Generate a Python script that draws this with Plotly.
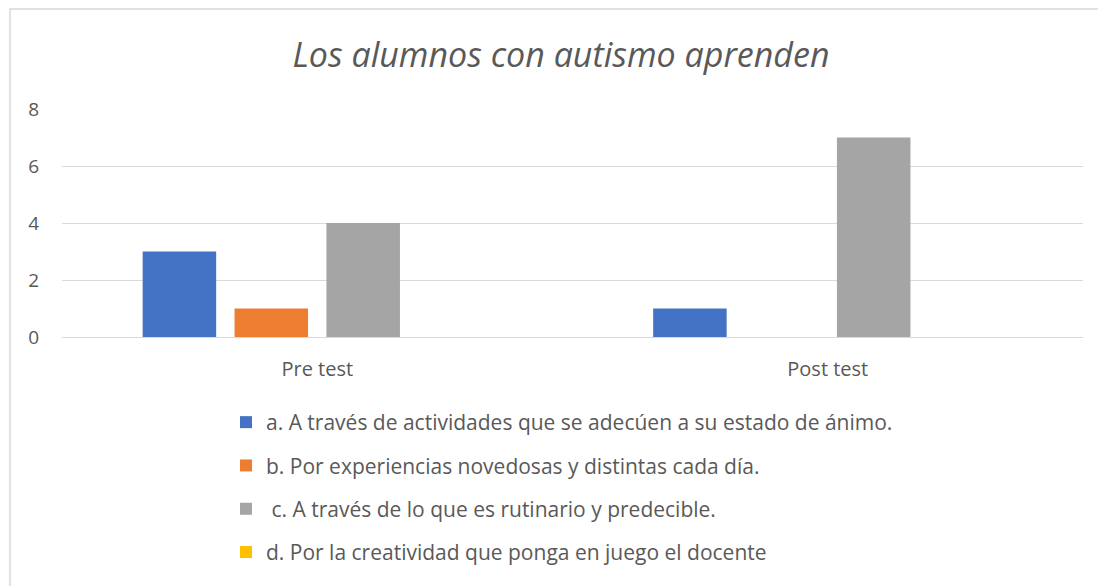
import plotly.graph_objects as go

categories = ["Pre test", "Post test"]
series_names = [
    "a. A través de actividades que se adecúen a su estado de ánimo.",
    "b. Por experiencias novedosas y distintas cada día.",
    " c. A través de lo que es rutinario y predecible.",
    "d. Por la creatividad que ponga en juego el docente",
]
series_values = [
    [3, 1],
    [1, 0],
    [4, 7],
    [0, 0],
]
colors = ["#4472C4", "#ED7D31", "#A5A5A5", "#FFC000"]

# the page body adds an 8px offset, so the figure is laid out in page coords - 8
OFF = 8
W, H = 1106 - OFF, 586 - OFF
L, R, T, B = 62 - OFF, 23, 109 - OFF, 249
pw, ph = W - L - R, H - T - B


def px_x(v):
    return (v - OFF - L) / pw


def px_y(v):
    return (H - B - (v - OFF)) / ph


fig = go.Figure()
for i, (name, vals) in enumerate(zip(series_names, series_values)):
    fig.add_trace(go.Bar(
        x=categories, y=vals, name=name,
        marker=dict(color=colors[i], line=dict(width=0)),
        legendgroup=f"g{i}",
    ))

# light grey chart border
fig.add_shape(type="rect", xref="paper", yref="paper",
              x0=px_x(10), x1=px_x(1104), y0=px_y(9), y1=px_y(620),
              line=dict(color="#D9D9D9", width=1.5), fillcolor="rgba(0,0,0,0)")

fig.update_layout(
    width=W, height=H,
    margin=dict(l=L, r=R, t=T, b=B, autoexpand=False),
    paper_bgcolor="white", plot_bgcolor="white",
    barmode="group", bargap=0.28, bargroupgap=0.2,
    font=dict(family="Open Sans, Liberation Sans, sans-serif", color="#595959", size=20),
    title=dict(text="<i>Los alumnos con autismo aprenden</i>",
               x=(561 - OFF) / W, xanchor="center",
               y=1 - (55 - OFF) / H, yanchor="middle",
               font=dict(size=34, color="#595959")),
    xaxis=dict(showgrid=False, showline=False, ticks="", tickfont=dict(size=20),
               ticklabelstandoff=18),
    yaxis=dict(range=[0, 8], dtick=2, showgrid=True, gridcolor="#D9D9D9", gridwidth=1.3,
               zeroline=True, zerolinecolor="#D9D9D9", zerolinewidth=1.3,
               showline=False, ticks="", tickfont=dict(size=19), ticklabelstandoff=22),
    legend=dict(orientation="v", x=px_x(226), xanchor="left", y=px_y(402), yanchor="top",
                font=dict(size=21, color="#595959"), tracegroupgap=13,
                itemwidth=30),
    showlegend=True,
)

fig.write_html("out.html")
